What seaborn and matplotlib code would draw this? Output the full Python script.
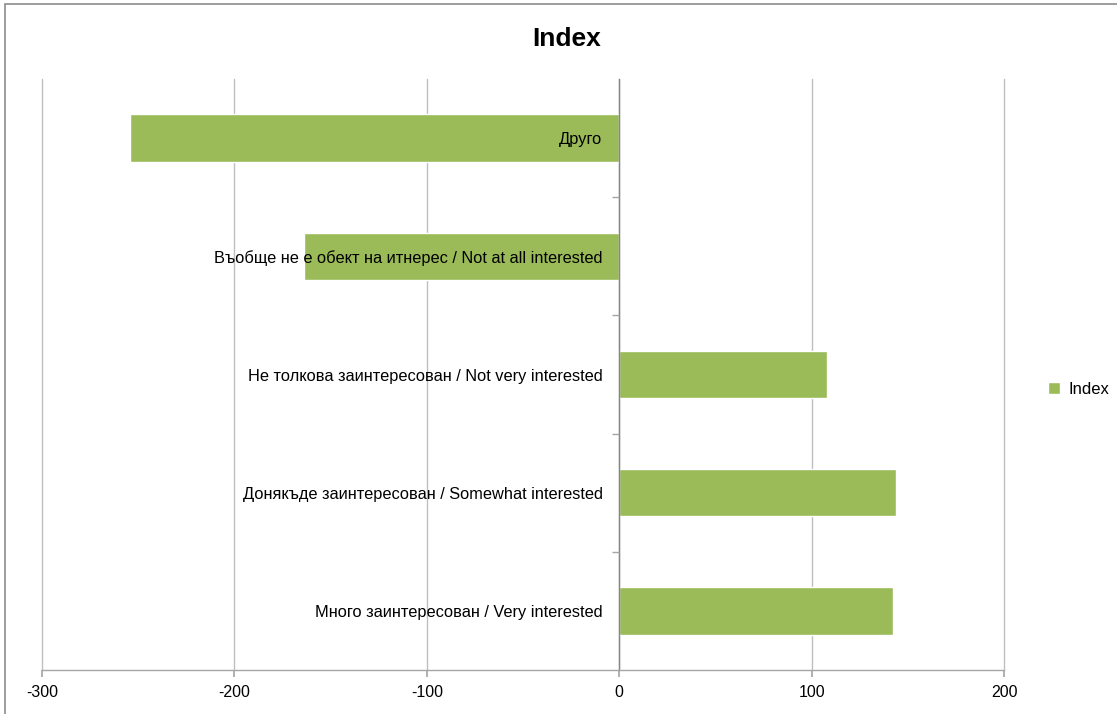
import matplotlib
matplotlib.use("Agg")
import matplotlib.pyplot as plt
import seaborn as sns
import pandas as pd
from matplotlib.patches import Rectangle

categories = [
    "Друго",
    "Въобще не е обект на итнерес / Not at all interested",
    "Не толкова заинтересован / Not very interested",
    "Донякъде заинтересован / Somewhat interested",
    "Много заинтересован / Very interested",
]
values = [-254.5, -163.6, 108.0, 143.9, 142.3]
series_name = "Index"
x_ticks = [-300, -200, -100, 0, 100, 200]

df = pd.DataFrame({"category": categories, "value": values, "series": series_name})

sns.set_theme(style="white")
plt.rcParams["font.family"] = ["Liberation Sans", "DejaVu Sans"]

fig = plt.figure(figsize=(11.17, 7.14), dpi=100)
ax = fig.add_axes([42 / 1117, 1 - 670 / 714, (1004 - 42) / 1117, (670 - 79) / 714])

sns.barplot(data=df, x="value", y="category", hue="series", orient="h",
            palette={series_name: "#9BBB59"}, width=0.4, ax=ax, saturation=1)

ax.set_xlim(-300, 200)
ax.set_xticks(x_ticks)
ax.set_xticklabels([str(t) for t in x_ticks], fontsize=11.5)
ax.set_xlabel("")
ax.set_ylabel("")

# grid under bars, category labels above bars
ax.set_axisbelow(True)
ax.xaxis.grid(True, color="#BFBFBF", linewidth=1)
for gl in ax.xaxis.get_gridlines():
    gl.set_clip_on(False)
ax.yaxis.grid(False)
ax.yaxis.set_zorder(3)

for s in ["top", "right"]:
    ax.spines[s].set_visible(False)
ax.spines["left"].set_position(("data", 0))
ax.spines["left"].set_color("#868686")
ax.spines["bottom"].set_color("#A6A6A6")
ax.spines["left"].set_linewidth(1)
ax.spines["bottom"].set_linewidth(1)

ax.tick_params(axis="x", which="major", direction="out", length=5, color="#A6A6A6",
               bottom=True, pad=6, labelcolor="black")
ax.tick_params(axis="y", which="major", length=0, pad=12, labelsize=11.8, labelcolor="black")
ax.set_yticks(range(len(categories)), minor=False)
ax.set_yticks([i + 0.5 for i in range(len(categories) - 1)], minor=True)
ax.tick_params(axis="y", which="minor", direction="out", length=5, color="#A6A6A6", left=True)

sns.move_legend(ax, "center left", bbox_to_anchor=(1.03, 0.475), frameon=False, title=None,
                fontsize=12, handlelength=0.75, handleheight=0.75, handletextpad=0.5)
for t in ax.get_legend().get_texts():
    t.set_color("black")

fig.suptitle("Index", x=567 / 1117, y=1 - 27 / 714, fontsize=19, fontweight="bold", color="black")

fig.patches.append(Rectangle((5 / 1117, -0.01), 1.0, 1 - 4 / 714 + 0.01, transform=fig.transFigure,
                             fill=False, edgecolor="#8C8C8C", linewidth=1.2))

fig.savefig("out.png", dpi=100)
